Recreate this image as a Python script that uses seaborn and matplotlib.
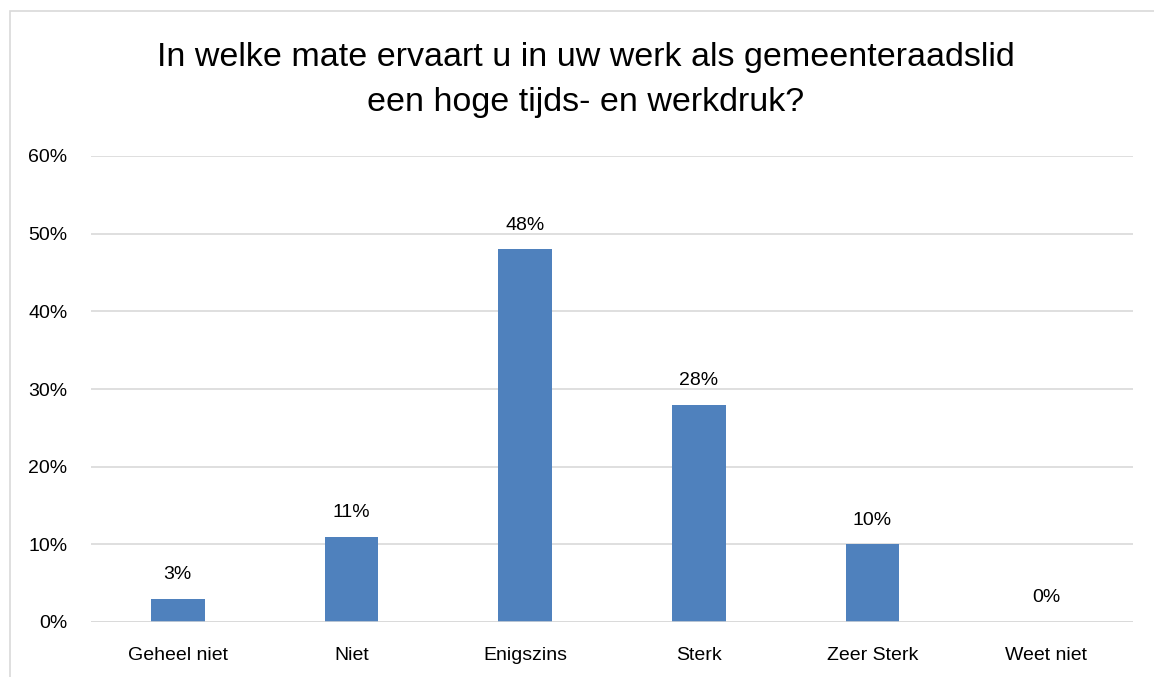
import matplotlib
matplotlib.use("Agg")
import matplotlib.pyplot as plt
import seaborn as sns
import pandas as pd
from matplotlib.patches import Rectangle

categories = ["Geheel niet", "Niet", "Enigszins", "Sterk", "Zeer Sterk", "Weet niet"]
values = [3, 11, 48, 28, 10, 0]
yticks = [0, 10, 20, 30, 40, 50, 60]
title = "In welke mate ervaart u in uw werk als gemeenteraadslid\neen hoge tijds- en werkdruk?"

sns.set_theme(style="white")
plt.rcParams["font.family"] = ["Liberation Sans", "DejaVu Sans"]

df = pd.DataFrame({"cat": categories, "val": values})

fig = plt.figure(figsize=(11.54, 6.77), dpi=100)
ax = fig.add_axes([91/1154, 1 - 622/677, (1133-91)/1154, (622-156)/677])

sns.barplot(data=df, x="cat", y="val", color="#4F81BD", saturation=1, width=0.31,
            linewidth=0, ax=ax, zorder=3)

ax.set_ylim(0, 60)
ax.set_yticks(yticks)
ax.set_yticklabels([f"{v}%" for v in yticks], fontsize=14, color="black")
ax.tick_params(axis="x", labelsize=14, colors="black", length=0, pad=18)
ax.tick_params(axis="y", length=0, pad=17)
ax.set_xlabel("")
ax.set_ylabel("")
ax.grid(axis="y", color="#D9D9D9", linewidth=1.2, zorder=0)
ax.axhline(0, color="#D9D9D9", linewidth=1.8, zorder=4)
for s in ax.spines.values():
    s.set_visible(False)

for i, v in enumerate(values):
    ax.text(i, v + 2.0, f"{v}%", ha="center", va="bottom", fontsize=14, color="black")

fig.text(586/1154, 1 - 80/677, title, ha="center", va="center", fontsize=24.5, color="black", linespacing=1.55)

fig.patches.append(Rectangle((10/1154, -0.1), 1.2, 1 - 11/677 + 0.1, transform=fig.transFigure,
                             fill=False, edgecolor="#D9D9D9", linewidth=1.2))

fig.savefig("out.png", dpi=100)
